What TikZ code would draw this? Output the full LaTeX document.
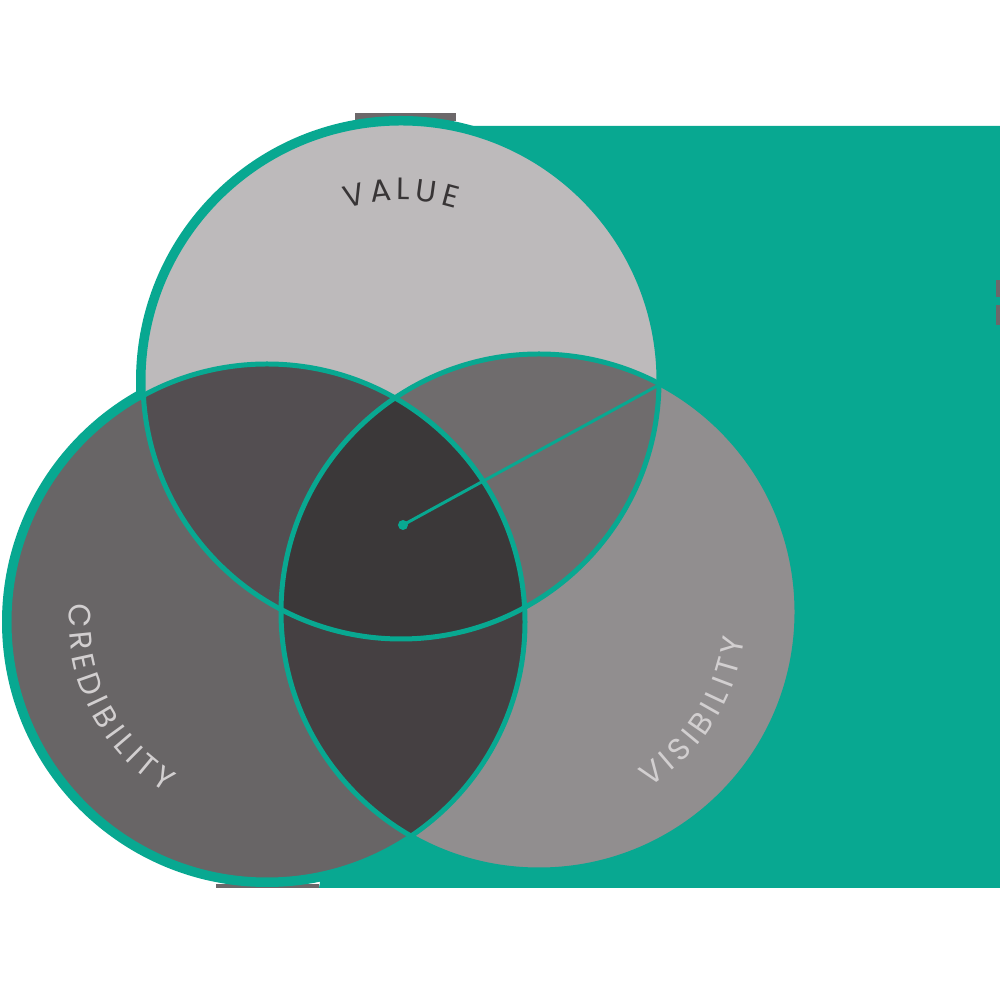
\documentclass[tikz,border=0pt]{standalone}
\usepackage{fontspec}
\usetikzlibrary{calc,decorations.text}
\setmainfont{Poppins}
\definecolor{tealc}{RGB}{8,168,145}
\definecolor{stripc}{RGB}{108,104,106}
\definecolor{Vc}{RGB}{189,186,187}
\definecolor{Cc}{RGB}{104,101,102}
\definecolor{Sc}{RGB}{145,142,143}
\definecolor{VCc}{RGB}{83,78,81}
\definecolor{VSc}{RGB}{111,108,109}
\definecolor{CSc}{RGB}{69,64,66}
\definecolor{VCSc}{RGB}{59,56,57}
\definecolor{darktxt}{RGB}{56,53,54}
\definecolor{lighttxt}{RGB}{210,207,208}
\tikzset{
  ring/.style={draw=tealc, line width=1.42pt},
  pointer/.style={draw=tealc, line width=0.85pt},
  arctext/.style={decorate, decoration={text along path, text={#1}, text align={fit to path}}}
}
\begin{document}
\begin{tikzpicture}[x=0.01cm,y=0.01cm]
\useasboundingbox (0,0) rectangle (1000,1000);
\fill[white] (0,0) rectangle (1000,1000);
\def\R{258}
\coordinate (cV) at (401,619);
\coordinate (cC) at (267,378);
\coordinate (cS) at (539,388);
% teal background
\fill[tealc] (319,112) -- (456,874) -- (1000,874) -- (1000,112) -- cycle;
% small grey strips at the edges
\fill[stripc] (355,879) rectangle (456,887);
\fill[stripc] (216,112) rectangle (319,116);
\fill[stripc] (996,703) rectangle (1000,720);
\fill[stripc] (996,675) rectangle (1000,695);
% outer teal borders
\foreach \c in {cV,cC,cS} \fill[tealc] (\c) circle[radius=265];
% single regions
\fill[Vc] (cV) circle[radius=\R];
\fill[Cc] (cC) circle[radius=\R];
\fill[Sc] (cS) circle[radius=\R];
% pairwise overlaps
\begin{scope}
  \clip (cV) circle[radius=\R];
  \fill[VCc] (cC) circle[radius=\R];
  \fill[VSc] (cS) circle[radius=\R];
\end{scope}
\begin{scope}
  \clip (cC) circle[radius=\R];
  \fill[CSc] (cS) circle[radius=\R];
  \clip (cV) circle[radius=\R];
  \fill[VCSc] (cS) circle[radius=\R];
\end{scope}
% outlines
\foreach \c in {cV,cC,cS} \draw[ring] (\c) circle[radius=\R];
% pointer
\coordinate (dot) at (403,475);
\coordinate (tip) at (657,614);
\draw[pointer] (dot) -- (tip);
\fill[tealc] (dot) circle[radius=5];
% curved labels
\path[arctext={|\fontsize{8.8}{10}\selectfont\color{darktxt}|VALUE}]
  ($(cV)+(107.5:181)$) arc[start angle=107.5, end angle=72.5, radius=181];
\path[arctext={|\fontsize{8.8}{10}\selectfont\color{lighttxt}|CREDIBILITY}]
  ($(cC)+(174.6:198)$) arc[start angle=174.6, end angle=239.4, radius=198];
\path[arctext={|\fontsize{8.8}{10}\selectfont\color{lighttxt}|VISIBILITY}]
  ($(cS)+(-57.7:207)$) arc[start angle=-57.7, end angle=-7.4, radius=207];
\end{tikzpicture}
\end{document}
